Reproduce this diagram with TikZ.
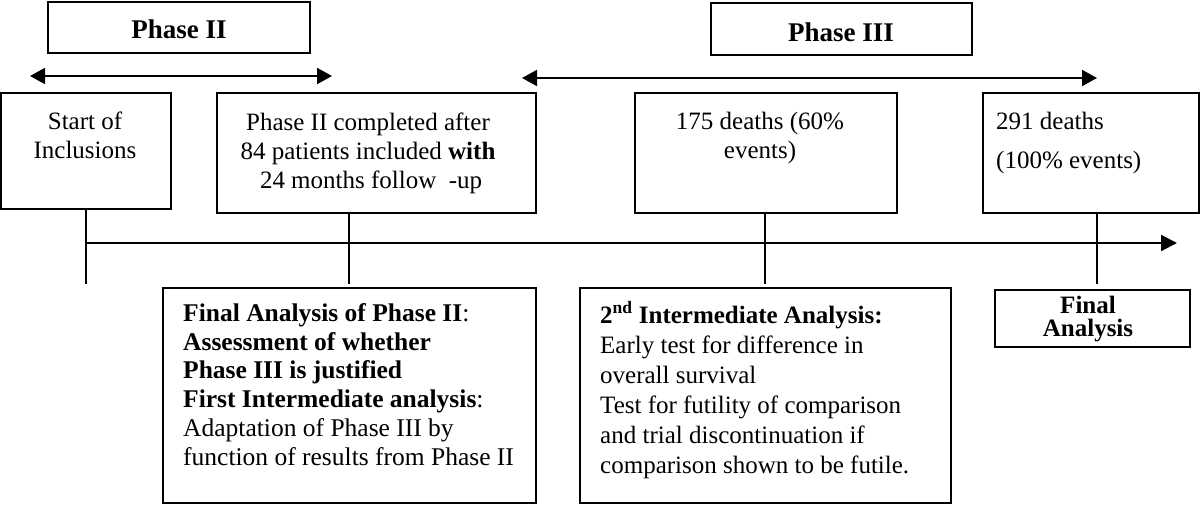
\documentclass[tikz,border=0pt]{standalone}
\usepackage{fontspec}
\setmainfont{Liberation Serif}
\usetikzlibrary{arrows.meta, positioning}

\begin{document}
\begin{tikzpicture}[x=1pt, y=-1pt,
	box/.style={draw, line width=2.4pt, inner sep=0pt, outer sep=0pt, anchor=north west},
	body/.style={font=\fontsize{25}{29}\selectfont, inner sep=0pt},
	head/.style={font=\fontsize{27}{30}\selectfont\bfseries, inner sep=0pt, anchor=base},
	conn/.style={line width=2pt},
	tip/.style={line width=2pt, -{Triangle[length=16pt, width=16pt]}},
	span/.style={line width=2pt, {Triangle[length=15pt, width=16pt]}-{Triangle[length=15pt, width=16pt]}}]

	\useasboundingbox (0,0) rectangle (1200,504);

	% Row positions
	\def\ytop{93}
	\def\ytl{243}
	\def\ytick{284}
	\def\ybot{288}

	% --- Phase headers and spans ---
	\node[box, minimum width=262pt, minimum height=51pt] (phtwo) at (48,2) {};
	\node[head] (phtwotxt) at (179,38) {Phase II};
	\node[box, minimum width=261pt, minimum height=52pt] (phthree) at (711,3) {};
	\node[head] (phthreetxt) at (841,41) {Phase III};

	\coordinate (phtwol) at (30,76);
	\coordinate (phtwor) at (332,76);
	\draw[span] (phtwol) -- (phtwor);
	\coordinate (phthreel) at (522,78);
	\coordinate (phthreer) at (1097,78);
	\draw[span] (phthreel) -- (phthreer);

	% --- Milestone boxes (text anchored on its last line) ---
	\node[box, minimum width=170pt, minimum height=116pt] (start) at (1,\ytop) {};
	\node[body, align=center, anchor=base] (starttxt) at (85,158) {Start of\\Inclusions};

	\node[box, minimum width=319pt, minimum height=120pt] (done) at (217,\ytop) {};
	\node[body, align=center, anchor=base] (donetxt) at (368,188)
		{Phase II completed after\\84 patients included \textbf{with}\\\ 24 months follow \ -up};

	\node[box, minimum width=262pt, minimum height=120pt] (mid) at (635,\ytop) {};
	\node[body, align=center, anchor=base] (midtxt) at (760,158) {175 deaths (60\%\\events)};

	\node[box, minimum width=216pt, minimum height=120pt] (fin) at (983,\ytop) {};
	\node[body, align=left, anchor=base west] (fintxt) at (996,168) {291 deaths\\[10pt](100\% events)};

	% --- Timeline and ticks ---
	\coordinate (tlstart) at (86,\ytl);
	\coordinate (tlend) at (1177,\ytl);
	\draw[tip] (tlstart) -- (tlend);

	\coordinate (starttick) at (86,\ytick);
	\coordinate (donetick) at (349,\ytick);
	\coordinate (midtick) at (765,\ytick);
	\coordinate (fintick) at (1097,\ytick);
	\draw[conn] (start.south -| starttick) -- (starttick);
	\draw[conn] (done.south -| donetick) -- (donetick);
	\draw[conn] (mid.south -| midtick) -- (midtick);
	\draw[conn] (fin.south -| fintick) -- (fintick);

	% --- Analysis boxes ---
	\node[box, minimum width=373pt, minimum height=215pt] (anaone) at (163,\ybot) {};
	\node[body, font=\fontsize{25.5}{28.7}\selectfont, align=left, anchor=base west] (anaonetxt) at (183,465)
		{\textbf{Final Analysis of Phase II}:\\
		 \textbf{Assessment of whether}\\
		 \textbf{Phase III is justified}\\
		 \textbf{First Intermediate analysis}:\\
		 Adaptation of Phase III by\\
		 function of results from Phase II};

	\node[box, minimum width=371pt, minimum height=215pt] (anatwo) at (580,\ybot) {};
	\node[body, font=\fontsize{25}{30}\selectfont, align=left, anchor=base west] (anatwotxt) at (600,473)
		{\textbf{2\textsuperscript{nd} Intermediate Analysis:}\\
		 Early test for difference in\\
		 overall survival\\
		 Test for futility of comparison\\
		 and trial discontinuation if\\
		 comparison shown to be futile.};

	\node[box, minimum width=195pt, minimum height=57pt] (anafin) at (995,290) {};
	\node[body, font=\fontsize{25}{23}\selectfont\bfseries, align=center, anchor=base] (anafintxt) at (1088,336)
		{Final\\Analysis};

\end{tikzpicture}
\end{document}
